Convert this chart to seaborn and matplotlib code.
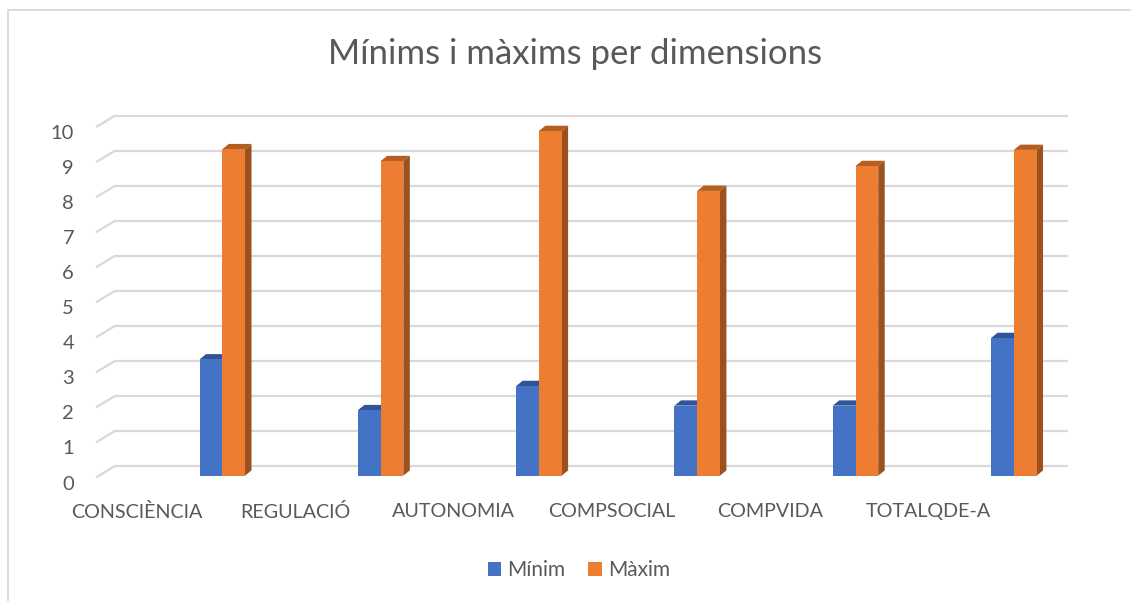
import numpy as np
import pandas as pd
import matplotlib
matplotlib.use("Agg")
import matplotlib.pyplot as plt
import matplotlib.transforms as mtransforms
from matplotlib.patches import Polygon
from matplotlib.lines import Line2D
import seaborn as sns

# ---------------- data ----------------
categories = ["CONSCIÈNCIA", "REGULACIÓ", "AUTONOMIA", "COMPSOCIAL", "COMPVIDA", "TOTALQDE-A"]
minim = [3.32, 1.87, 2.56, 2.00, 2.00, 3.93]
maxim = [9.32, 8.98, 9.84, 8.13, 8.84, 9.30]
series_names = ["Mínim", "Màxim"]
yticks = list(range(0, 11))
title = "Mínims i màxims per dimensions"

# ---------------- style ----------------
BLUE = "#4472C4"
ORANGE = "#ED7D31"
BLUE_TOP = "#2F5597"
BLUE_SIDE = "#2F5597"
ORANGE_TOP = "#B55E22"
ORANGE_SIDE = "#9C521E"
GRID = "#D9D9D9"
TXT = "#595959"

sns.set_style("white")
plt.rcParams["font.family"] = ["Lato", "DejaVu Sans"]

W, H, DPI = 1131, 601, 100
fig = plt.figure(figsize=(W / DPI, H / DPI), dpi=DPI)
fig.patch.set_facecolor("white")

# axes: x spans back wall (115..1066.7 px), y maps the bars' front plane
ax_left_px, ax_right_px = 115.0, 1066.7
y0_px, unit_px = 475.7, 35.03          # pixel row of value 0 (from top) and px per unit
ax = fig.add_axes([ax_left_px / W, (H - y0_px) / H,
                   (ax_right_px - ax_left_px) / W, 10 * unit_px / H])
ax.set_facecolor("none")

df = pd.DataFrame({
    "dim": categories * 2,
    "val": minim + maxim,
    "serie": [series_names[0]] * len(categories) + [series_names[1]] * len(categories),
})

sns.barplot(data=df, x="dim", y="val", hue="serie", order=categories,
            hue_order=series_names, palette=[BLUE, ORANGE], width=0.287,
            gap=0, saturation=1, ax=ax, legend=True, zorder=3, linewidth=0)

# data-space geometry
cat_px = 158.3
first_center_px = 222.3
x_lo = (ax_left_px - first_center_px) / cat_px
x_hi = (ax_right_px - first_center_px) / cat_px
ax.set_xlim(x_lo, x_hi)
ax.set_ylim(0, 10)

# 3D faces for every bar (depth offset in pixels converted to data units)
ddx = 6.5 / cat_px
ddy = 5.3 / unit_px
bars = [p for p in ax.patches]
for p in bars:
    fc = p.get_facecolor()
    is_blue = np.allclose(fc[:3], matplotlib.colors.to_rgb(BLUE), atol=0.02)
    top_c = BLUE_TOP if is_blue else ORANGE_TOP
    side_c = BLUE_SIDE if is_blue else ORANGE_SIDE
    x, w, h = p.get_x(), p.get_width(), p.get_height()
    top = Polygon([(x, h), (x + w, h), (x + w + ddx, h + ddy), (x + ddx, h + ddy)],
                  closed=True, facecolor=top_c, edgecolor="none", zorder=2, clip_on=False)
    side = Polygon([(x + w, 0), (x + w, h), (x + w + ddx, h + ddy), (x + w + ddx, ddy)],
                   closed=True, facecolor=side_c, edgecolor="none", zorder=2, clip_on=False)
    ax.add_patch(top)
    ax.add_patch(side)

# back-wall gridlines and floor depth lines
back_dy = 9.7 / unit_px
front_dx = -18.3 / cat_px
front_dy = -1.3 / unit_px
for v in yticks:
    ax.add_line(Line2D([x_lo, x_hi], [v + back_dy, v + back_dy], color=GRID,
                       lw=1.6, zorder=0.5, clip_on=False))
    ax.add_line(Line2D([x_lo, x_lo + front_dx], [v + back_dy, v + front_dy], color=GRID,
                       lw=1.6, zorder=0.5, clip_on=False))

# ticks
for s in ax.spines.values():
    s.set_visible(False)
ax.set_xlabel("")
ax.set_ylabel("")
label_shift = (137.2 - first_center_px) / cat_px
ax.set_xticks(np.arange(len(categories)) + label_shift)
ax.set_xticklabels(categories)
ax.set_yticks(yticks)
ax.set_yticklabels([str(t) for t in yticks])
ax.tick_params(axis="x", length=0, pad=20, labelsize=14.2, labelcolor=TXT)
ax.tick_params(axis="y", length=0, pad=29.5, labelsize=14.5, labelcolor=TXT)
ax.grid(False)
off = mtransforms.ScaledTranslation(0, -6.8 / DPI, fig.dpi_scale_trans)
for t in ax.yaxis.get_major_ticks():
    t.label1.set_transform(t.label1.get_transform() + off)

# legend
leg0 = ax.get_legend()
handles = leg0.legend_handles if hasattr(leg0, "legend_handles") else leg0.legendHandles
ax.legend(handles=handles, labels=series_names, loc="center",
          bbox_to_anchor=(579 / W, 1 - 570 / H), bbox_transform=fig.transFigure,
          ncol=2, frameon=False, fontsize=15, labelcolor=TXT,
          handlelength=0.65, handleheight=0.65, handletextpad=0.3, columnspacing=1.1)

# title
fig.text(575 / W, 1 - 54 / H, title, ha="center", va="center", fontsize=25, color=TXT)

# chart border (top and left visible)
fig.add_artist(Line2D([8 / W, 1.0], [1 - 10 / H, 1 - 10 / H], transform=fig.transFigure,
                      color=GRID, lw=1.3))
fig.add_artist(Line2D([8 / W, 8 / W], [0.0, 1 - 10 / H], transform=fig.transFigure,
                      color=GRID, lw=1.3))

fig.savefig("out.png", dpi=DPI)
